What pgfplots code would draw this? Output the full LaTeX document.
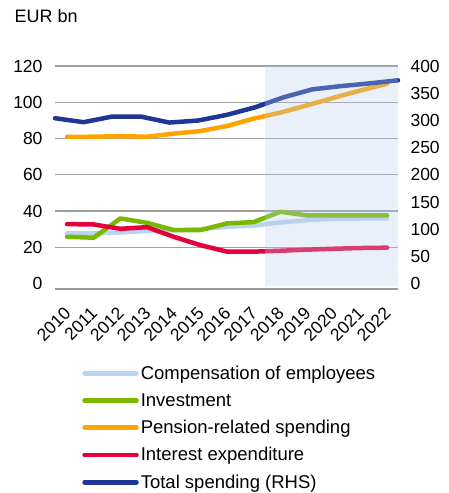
\documentclass[border=0pt]{standalone}
\usepackage{fontspec}
\setmainfont{Liberation Sans}
\usepackage{pgfplots}
\pgfplotsset{compat=1.18}

\definecolor{comp}{RGB}{184,212,240}
\definecolor{inv}{RGB}{122,184,0}
\definecolor{pens}{RGB}{255,163,0}
\definecolor{intr}{RGB}{228,0,58}
\definecolor{total}{RGB}{30,55,150}
\definecolor{shadecol}{RGB}{185,205,238}

\pgfplotsset{
  every axis/.append style={
    width=343pt, height=223pt, scale only axis,
    font=\fontsize{17.5}{20}\selectfont,
    /pgf/number format/assume math mode=true,
    /pgf/number format/1000 sep={},
    major tick length=0pt,
  },
  series/.style={line width=4.5pt, line cap=round, line join=round, mark=none},
}

\begin{document}
\begin{tikzpicture}
\useasboundingbox (-55pt,-204pt) rectangle (394pt,289pt);

\begin{axis}[
  xmin=2009.55, xmax=2022.41,
  ymin=-3, ymax=120,
  axis x line*=bottom, axis y line*=left,
  x axis line style={draw=gray!80, line width=1.3pt, -},
  y axis line style={draw=none},
  ytick={20,40,...,120},
  extra y ticks={0},
  extra y tick style={grid=none},
  ymajorgrids,
  major grid style={gray!75, line width=1.3pt},
  yticklabel style={anchor=east, xshift=-9pt},
  xtick={2010,...,2022},
  xticklabel style={xshift=-4pt, yshift=-12pt, rotate=45, anchor=north east},
  clip=false,
  legend style={at={(0.079,-0.335)}, anchor=north west, draw=none, fill=none,
    inner sep=0pt, row sep=8.5pt, font=\fontsize{18.5}{21}\selectfont},
  legend cell align=left,
  legend image code/.code={\draw[#1] (0pt,0pt) -- (52pt,0pt);},
]
\addplot[series, comp] coordinates {(2010,27.7) (2011,27.7) (2012,28.2) (2013,29.0) (2014,29.5) (2015,30.0) (2016,31.3) (2017,32.0) (2018,33.7) (2019,35.0) (2020,35.7) (2021,35.9) (2022,35.9)};
\addlegendentry{Compensation of employees}
\addplot[series, inv] coordinates {(2010,25.8) (2011,25.3) (2012,35.9) (2013,33.5) (2014,29.5) (2015,29.5) (2016,33.2) (2017,33.9) (2018,39.6) (2019,37.6) (2020,37.6) (2021,37.6) (2022,37.6)};
\addlegendentry{Investment}
\addplot[series, pens] coordinates {(2010,80.9) (2011,81.0) (2012,81.3) (2013,81.0) (2014,82.7) (2015,84.1) (2016,86.9) (2017,91.0) (2018,94.3) (2019,98.3) (2020,102.5) (2021,106.5) (2022,110.2)};
\addlegendentry{Pension-related spending}
\addplot[series, intr] coordinates {(2010,32.8) (2011,32.6) (2012,30.2) (2013,31.1) (2014,25.8) (2015,21.2) (2016,17.6) (2017,17.6) (2018,18.1) (2019,18.7) (2020,19.2) (2021,19.6) (2022,19.8)};
\addlegendentry{Interest expenditure}
\addlegendimage{series, total}
\addlegendentry{Total spending (RHS)}
\node[anchor=north west, inner sep=0pt] at (rel axis cs:-0.118,1.255) {\fontsize{18}{20}\selectfont EUR bn};
\end{axis}

\begin{axis}[
  xmin=2010, xmax=2022,
  ymin=-10, ymax=400,
  axis y line*=right, axis x line=none,
  y axis line style={draw=none},
  ytick={0,50,...,400},
  yticklabel style={anchor=west, xshift=9pt},
  xtick=\empty,
  clip=false,
]
\addplot[series, total] coordinates {(2010,304) (2011,296.7) (2012,307) (2013,307) (2014,296) (2015,299.7) (2016,310) (2017,324) (2018,342.5) (2019,357) (2020,363) (2021,368) (2022,373.7)};
\fill[shadecol, fill opacity=0.3] (axis cs:2017.35,-3.7) rectangle (axis cs:2022,400);
\end{axis}
\end{tikzpicture}
\end{document}
